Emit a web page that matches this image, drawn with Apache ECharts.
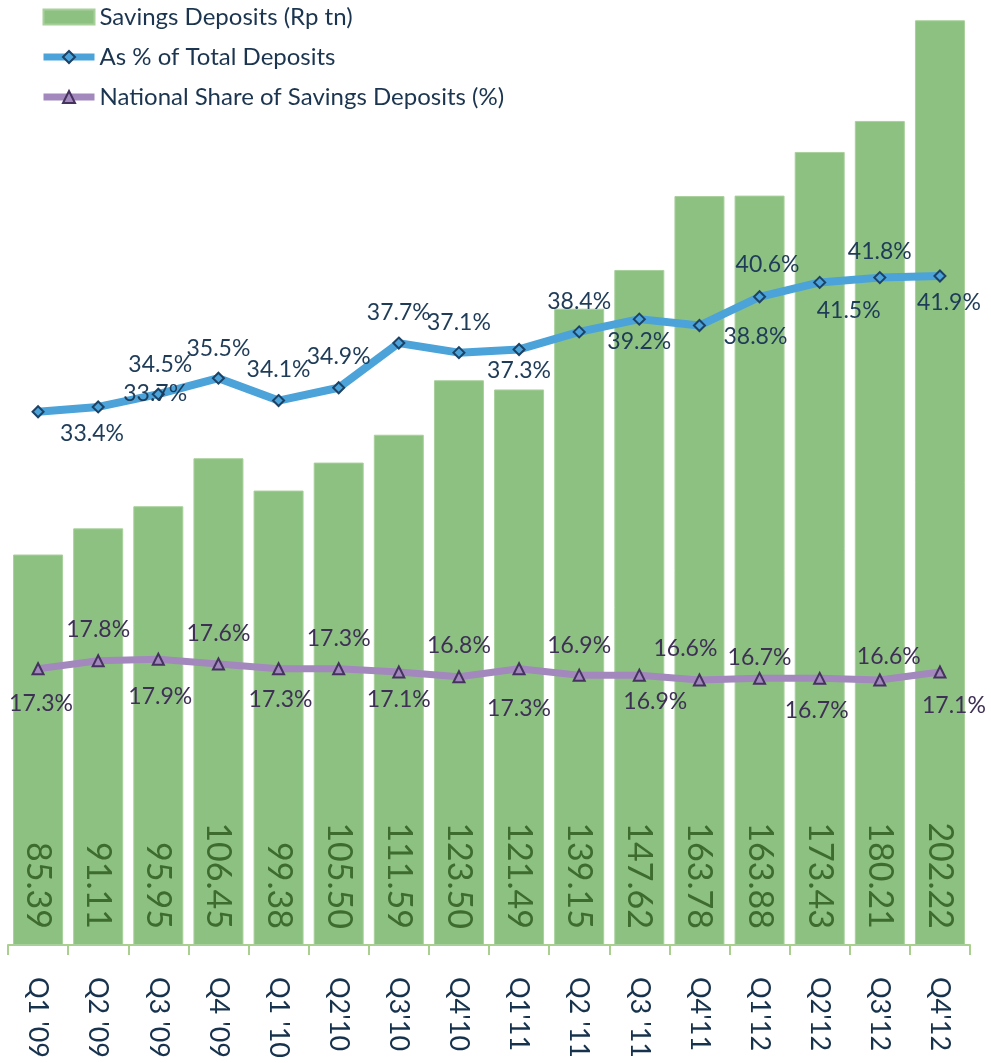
<!DOCTYPE html>
<html>
<head>
<meta charset="utf-8">
<script src="https://cdn.jsdelivr.net/npm/echarts@6/dist/echarts.min.js"></script>
<style>
  html, body { margin: 0; padding: 0; background: #ffffff; }
  #chart { width: 991px; height: 1063px; }
</style>
</head>
<body>
<div id="chart"></div>
<script>
// Quarterly savings deposits and their shares
const categories = ["Q1 '09", "Q2 '09", "Q3 '09", "Q4 '09", "Q1 '10", "Q2'10", "Q3'10", "Q4'10",
                    "Q1'11", "Q2 '11", "Q3 '11", "Q4'11", "Q1'12", "Q2'12", "Q3'12", "Q4'12"];
const savingsDeposits = [85.39, 91.11, 95.95, 106.45, 99.38, 105.50, 111.59, 123.50,
                         121.49, 139.15, 147.62, 163.78, 163.88, 173.43, 180.21, 202.22];
const pctOfTotalDeposits = [33.4, 33.7, 34.5, 35.5, 34.1, 34.9, 37.7, 37.1,
                            37.3, 38.4, 39.2, 38.8, 40.6, 41.5, 41.8, 41.9];
const nationalShare = [17.3, 17.8, 17.9, 17.6, 17.3, 17.3, 17.1, 16.8,
                       17.3, 16.9, 16.9, 16.6, 16.7, 16.7, 16.6, 17.1];

// Label placement (pixel offsets from each point)
const pctLabelOffsets = [[54, 22], [57, -13], [2, -30], [0, -30], [0, -31], [0, -31], [0, -30], [0, -30],
                         [0, 21], [0, -30], [0, 22], [56, 11], [8, -32], [29, 28], [0, -26], [9, 27]];
const shareLabelOffsets = [[3, 35], [0, -31], [2, 37], [0, -30], [2, 31], [0, -30], [0, 28], [0, -31],
                           [0, 40], [0, -30], [16, 26], [-14, -31], [0, -21], [-3, 32], [9, -23], [14, 34]];

const FONT = 'Lato';
const BLUE = '#4ba3d9';
const PURPLE = '#a288bd';

const chart = echarts.init(document.getElementById('chart'), null, { renderer: 'canvas' });

const pctData = pctOfTotalDeposits.map((v, i) => ({
  value: v,
  label: { offset: pctLabelOffsets[i] }
}));
const shareData = nationalShare.map((v, i) => ({
  value: v,
  label: { offset: shareLabelOffsets[i] }
}));

chart.setOption({
  animation: false,
  backgroundColor: '#ffffff',
  textStyle: { fontFamily: FONT },
  legend: {
    orient: 'vertical',
    left: 40,
    top: 5,
    padding: 0,
    itemWidth: 51,
    itemHeight: 15,
    itemGap: 16,
    textStyle: { fontFamily: FONT, fontSize: 24, color: '#1b3550' },
    data: [
      { name: 'Savings Deposits (Rp tn)', icon: 'rect' },
      { name: 'As % of Total Deposits', lineStyle: { color: BLUE, width: 7 } },
      { name: 'National Share of Savings Deposits (%)', lineStyle: { color: PURPLE, width: 7 } }
    ]
  },
  grid: { left: 8, right: 21, top: 3, bottom: 118, containLabel: false },
  xAxis: {
    type: 'category',
    data: categories,
    boundaryGap: true,
    axisLine: { show: true, lineStyle: { color: '#a9d08e', width: 2 } },
    axisTick: { show: true, length: 10, alignWithLabel: false, lineStyle: { color: '#a9d08e', width: 2 } },
    axisLabel: {
      rotate: -90,
      margin: 32,
      interval: 0,
      fontFamily: FONT,
      fontSize: 27,
      color: '#17324d'
    },
    splitLine: { show: false }
  },
  yAxis: [
    { type: 'value', min: 0, max: 206, show: false, splitLine: { show: false } },
    { type: 'value', min: 0, max: 59, show: false, splitLine: { show: false } }
  ],
  series: [
    {
      name: 'Savings Deposits (Rp tn)',
      type: 'bar',
      data: savingsDeposits,
      barWidth: 50,
      itemStyle: { color: '#8dc181', borderColor: '#a8d09b', borderWidth: 1 },
      label: {
        show: true,
        position: 'insideBottom',
        rotate: -90,
        align: 'right',
        verticalAlign: 'middle',
        distance: 16,
        fontFamily: FONT,
        fontSize: 34,
        color: '#3d6c2e',
        formatter: p => p.value.toFixed(2)
      },
      z: 1
    },
    {
      name: 'As % of Total Deposits',
      type: 'line',
      yAxisIndex: 1,
      data: pctData,
      symbol: 'diamond',
      symbolSize: 11,
      lineStyle: { color: BLUE, width: 8 },
      itemStyle: { color: BLUE, borderColor: '#1c4266', borderWidth: 2 },
      label: {
        show: true,
        position: 'inside',
        fontFamily: FONT,
        fontSize: 23,
        color: '#1e3b58',
        formatter: p => p.value.toFixed(1) + '%'
      },
      z: 3
    },
    {
      name: 'National Share of Savings Deposits (%)',
      type: 'line',
      yAxisIndex: 1,
      data: shareData,
      symbol: 'triangle',
      symbolSize: 11,
      lineStyle: { color: PURPLE, width: 7 },
      itemStyle: { color: PURPLE, borderColor: '#45325e', borderWidth: 2 },
      label: {
        show: true,
        position: 'inside',
        fontFamily: FONT,
        fontSize: 23,
        color: '#3e2f55',
        formatter: p => p.value.toFixed(1) + '%'
      },
      z: 3
    }
  ]
});
</script>
</body>
</html>
